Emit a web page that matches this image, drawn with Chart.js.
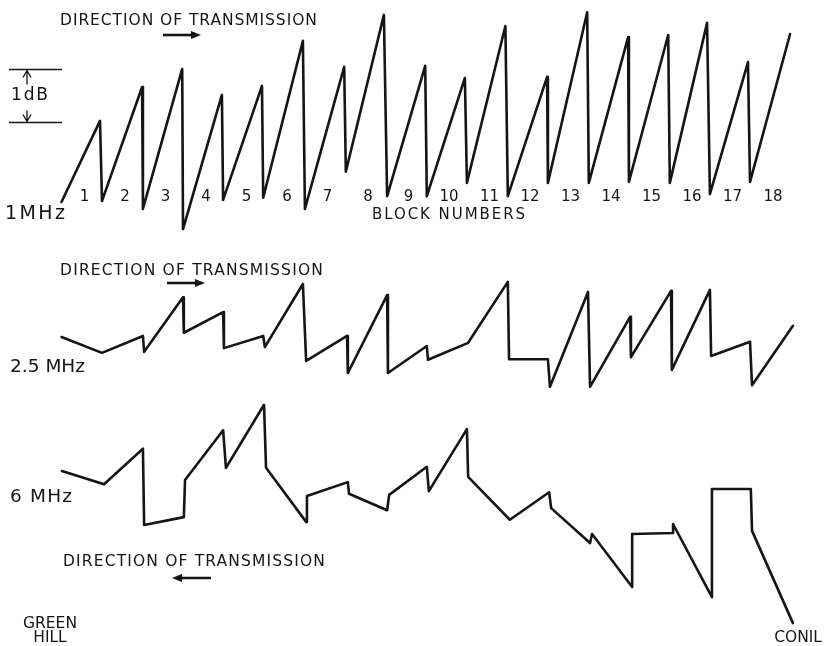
<!DOCTYPE html>
<html><head><meta charset="utf-8">
<script src="https://cdn.jsdelivr.net/npm/chart.js@4"></script>
<style>html,body{margin:0;padding:0;background:#fff;overflow:hidden}#wrap{width:824px;height:646px;position:relative}canvas{display:block}</style>
</head><body><div id="wrap"><canvas id="c" width="824" height="646"></canvas></div>
<script>
// Block numbers along the route (Green Hill -> Conil)
const blockNumbers = [1,2,3,4,5,6,7,8,9,10,11,12,13,14,15,16,17,18];

// 1 MHz trace: x in block units, y in dB (relative)
const x1MHz  = [0,0.95,1.00,1.99,2.01,2.98,3.00,3.96,3.99,4.95,4.98,5.96,6.01,6.98,7.02,7.96,8.04,8.98,9.02,9.96,10.01,10.96,11.02,11.99,12.01,12.98,13.02,13.99,14.01,14.98,15.02,15.94,16.01,16.95,17.00,17.99];
const db1MHz = [0,1.53,0.02,2.17,-0.13,2.51,-0.51,2.02,0.04,2.19,0.08,3.04,-0.13,2.55,0.57,3.53,0.11,2.57,0.11,2.34,0.36,3.32,0.11,2.36,0.36,3.58,0.36,3.11,0.38,3.15,0.36,3.38,0.15,2.64,0.38,3.17];

// 2.5 MHz trace
const x25MHz  = [0,1.00,2.01,2.04,3.00,3.02,3.99,4.01,4.98,5.02,5.96,6.04,7.05,7.07,8.04,8.06,9.02,9.05,10.04,11.02,11.05,12.01,12.06,13.00,13.05,14.04,14.06,15.05,15.07,16.01,16.04,17.00,17.05,18.06];
const db25MHz = [0,-0.30,0.02,-0.28,0.75,0.08,0.47,-0.21,0.02,-0.19,1.00,-0.45,0.02,-0.68,0.79,-0.68,-0.17,-0.43,-0.11,1.04,-0.42,-0.42,-0.94,0.85,-0.94,0.38,-0.38,0.87,-0.62,0.89,-0.36,-0.09,-0.91,0.21];

// 6 MHz trace
const x6MHz  = [0.01,1.05,2.01,2.04,3.02,3.05,3.99,4.06,5.00,5.05,6.04,6.06,7.07,7.10,8.04,8.09,9.02,9.07,10.01,10.04,11.07,12.04,12.09,13.05,13.10,14.09,14.09,15.10,15.10,16.06,16.06,17.02,17.05,18.06];
const db6MHz = [0,-0.25,0.42,-1.02,-0.87,-0.17,0.77,0.06,1.25,0.06,-0.96,-0.47,-0.21,-0.43,-0.74,-0.45,0.08,-0.38,0.79,-0.11,-0.92,-0.40,-0.70,-1.36,-1.19,-2.19,-1.19,-1.17,-1.00,-2.38,-0.34,-0.34,-1.13,-2.87];

const traceLabels = ['1MHz','2.5 MHz','6 MHz'];
const dirLabel = 'DIRECTION OF TRANSMISSION';

function pts(xs, ys){ return xs.map((x,i)=>({x:x, y:ys[i]})); }

const FONT = '"DejaVu Sans", sans-serif';
const INK = '#151515';

function fitText(ctx, str, x, y, w, size){
  ctx.font = size + 'px ' + FONT;
  ctx.letterSpacing = '0px';
  const m = ctx.measureText(str).width;
  const ls = (w - m) / Math.max(1, str.length - 1);
  ctx.letterSpacing = ls.toFixed(2) + 'px';
  ctx.textAlign = 'left';
  ctx.textBaseline = 'middle';
  ctx.fillText(str, x, y);
  ctx.letterSpacing = '0px';
}

function arrow(ctx, x0, x1, y){
  const dir = Math.sign(x1 - x0);
  ctx.lineWidth = 2.6;
  ctx.beginPath(); ctx.moveTo(x0, y); ctx.lineTo(x1 - dir*6, y); ctx.stroke();
  ctx.beginPath(); ctx.moveTo(x1, y); ctx.lineTo(x1 - dir*10, y - 4); ctx.lineTo(x1 - dir*10, y + 4); ctx.closePath(); ctx.fill();
}

const annotate = {
  id: 'annotate',
  afterDatasetsDraw(chart){
    const ctx = chart.ctx, xs = chart.scales.x, y1 = chart.scales.y1;
    ctx.save();
    ctx.fillStyle = INK; ctx.strokeStyle = INK;
    // Direction labels
    fitText(ctx, dirLabel, 60, 21, 257, 15.5);
    fitText(ctx, dirLabel, 60, 271, 263, 15.5);
    fitText(ctx, dirLabel, 63, 562, 262, 15.5);
    arrow(ctx, 163, 201, 35);
    arrow(ctx, 167, 205, 283);
    arrow(ctx, 211, 172, 578);
    // Trace labels
    fitText(ctx, traceLabels[0], 5, 214, 60, 19);
    fitText(ctx, traceLabels[1], 10, 367, 75, 18.5);
    fitText(ctx, traceLabels[2], 10, 497, 62, 18.5);
    // Block numbers
    ctx.font = '15px ' + FONT; ctx.textAlign = 'center'; ctx.textBaseline = 'middle';
    blockNumbers.forEach(k => { ctx.fillText(String(k), xs.getPixelForValue(k - 0.43), 197); });
    fitText(ctx, 'BLOCK NUMBERS', 372, 215, 153, 15);
    // 1 dB bracket
    const yA = y1.getPixelForValue(2.5), yB = y1.getPixelForValue(1.5);
    ctx.lineWidth = 1.3;
    ctx.beginPath();
    ctx.moveTo(9, yA); ctx.lineTo(62, yA);
    ctx.moveTo(9, yB); ctx.lineTo(62, yB);
    ctx.moveTo(27, yA + 1); ctx.lineTo(27, yA + 15);
    ctx.moveTo(23, yA + 8); ctx.lineTo(27, yA + 1); ctx.lineTo(31, yA + 8);
    ctx.moveTo(27, yB - 1); ctx.lineTo(27, yB - 12);
    ctx.moveTo(23, yB - 8); ctx.lineTo(27, yB - 1); ctx.lineTo(31, yB - 8);
    ctx.stroke();
    fitText(ctx, '1dB', 11, (yA + yB)/2, 37, 17);
    // End-point names
    ctx.font = '15.5px ' + FONT; ctx.textAlign = 'center'; ctx.textBaseline = 'middle';
    ctx.fillText('GREEN', 50, 624);
    ctx.fillText('HILL', 50, 638);
    ctx.textAlign = 'right';
    ctx.fillText('CONIL', 822, 638);
    ctx.restore();
  }
};

const lineStyle = { showLine:true, borderColor:INK, borderWidth:2.6, pointRadius:0, tension:0, borderJoinStyle:'round', borderCapStyle:'round', fill:false };

new Chart(document.getElementById('c'), {
  type: 'scatter',
  data: { datasets: [
    Object.assign({ label: traceLabels[0], data: pts(x1MHz, db1MHz), yAxisID:'y1' }, lineStyle),
    Object.assign({ label: traceLabels[1], data: pts(x25MHz, db25MHz), yAxisID:'y2' }, lineStyle),
    Object.assign({ label: traceLabels[2], data: pts(x6MHz, db6MHz), yAxisID:'y3' }, lineStyle)
  ]},
  options: {
    responsive:false, animation:false, devicePixelRatio:1,
    layout:{ padding:0 },
    plugins:{ legend:{display:false}, tooltip:{enabled:false} },
    scales:{
      x:{ type:'linear', min:-1.519, max:18.827, display:false },
      y1:{ type:'linear', min:-8.377, max:3.811, display:false },
      y2:{ type:'linear', min:-5.830, max:6.358, display:false },
      y3:{ type:'linear', min:-3.302, max:8.887, display:false }
    }
  },
  plugins:[annotate]
});
</script></body></html>
